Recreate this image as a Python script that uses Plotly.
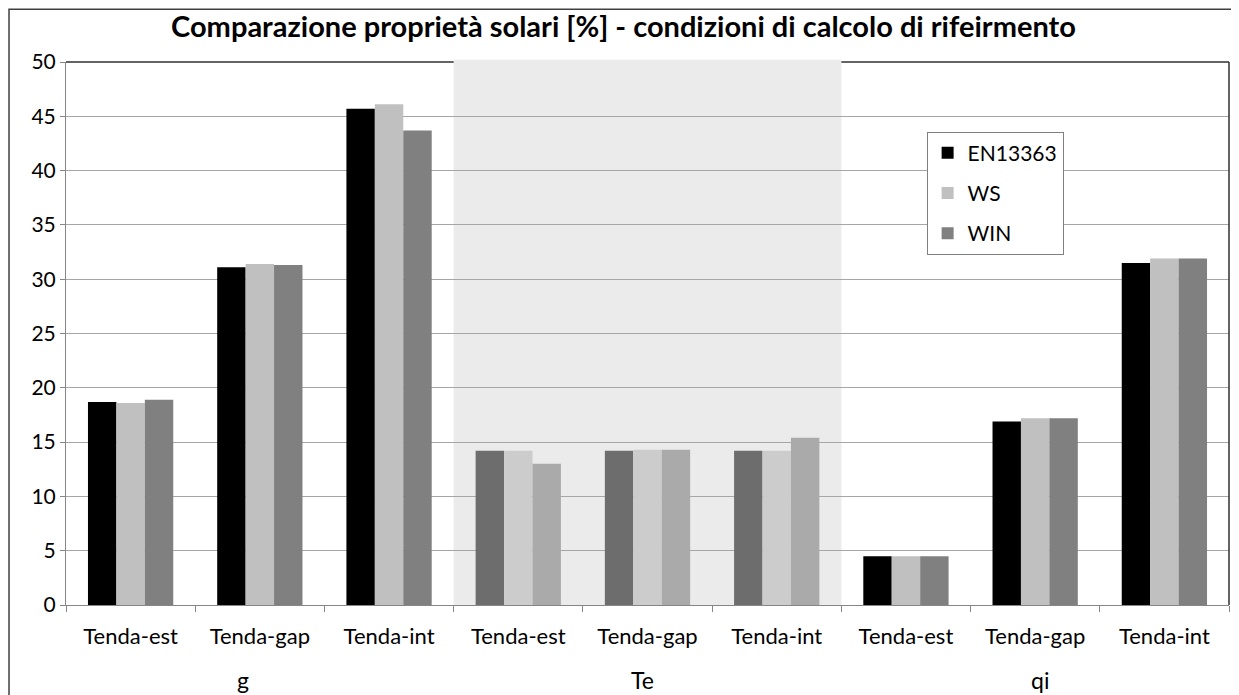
import plotly.graph_objects as go

groups = ["g", "g", "g", "Te", "Te", "Te", "qi", "qi", "qi"]
cases = ["Tenda-est", "Tenda-gap", "Tenda-int"] * 3
group_labels = ["g", "Te", "qi"]

en13363 = [18.7, 31.1, 45.7, 14.2, 14.2, 14.2, 4.5, 16.9, 31.5]
ws = [18.6, 31.4, 46.1, 14.2, 14.3, 14.2, 4.5, 17.2, 31.9]
win = [18.9, 31.3, 43.7, 13.0, 14.3, 15.4, 4.5, 17.2, 31.9]

FONT = "Lato"
GRID = "#a6a6a6"
AXIS = "#868686"

# unique category keys, shown with the repeated case names
keys = [f"{g} {c}" for g, c in zip(groups, cases)]

# Te group is drawn in lighter tones, as in the original sheet
series = [
    ("EN13363", en13363, "#000000", "#6d6d6d"),
    ("WS", ws, "#c0c0c0", "#cccccc"),
    ("WIN", win, "#808080", "#aaaaaa"),
]

fig = go.Figure()
for name, values, base, te in series:
    colors = [te if g == "Te" else base for g in groups]
    fig.add_trace(
        go.Bar(
            x=keys,
            y=values,
            name=name,
            legendgroup=name,
            marker=dict(color=colors, line=dict(width=0)),
        )
    )

# group names under the middle case of each group (Excel nudges them a bit)
label_nudge = {"g": -17, "Te": -5, "qi": 5}
annotations = []
for label in group_labels:
    members = [k for k, g in zip(keys, groups) if g == label]
    annotations.append(
        dict(
            text=label,
            x=members[len(members) // 2],
            xref="x",
            xshift=label_nudge[label],
            y=-0.138,
            yref="paper",
            yanchor="middle",
            showarrow=False,
            font=dict(family=FONT, size=23, color="#000000"),
        )
    )

fig.update_layout(
    width=1231,
    height=687,
    barmode="group",
    bargap=0.34,
    bargroupgap=0,
    plot_bgcolor="white",
    paper_bgcolor="white",
    margin=dict(l=58, r=10, t=54, b=90),
    font=dict(family=FONT, size=22, color="#000000"),
    title=dict(
        text="<b>Comparazione proprietà solari [%] - condizioni di calcolo di rifeirmento</b>",
        x=0.5,
        xanchor="center",
        y=0.973,
        yanchor="middle",
        font=dict(family=FONT, size=29, color="#000000"),
    ),
    legend=dict(
        x=0.74,
        y=0.872,
        xanchor="left",
        yanchor="top",
        bgcolor="white",
        bordercolor="#808080",
        borderwidth=1,
        tracegroupgap=10,
        font=dict(family=FONT, size=21),
    ),
    annotations=annotations,
    shapes=[
        dict(type="rect", xref="x domain", yref="y domain", x0=3 / 9, x1=6 / 9, y0=0, y1=1.004,
             fillcolor="#ebebeb", line=dict(width=0), layer="below"),
        dict(type="line", xref="x domain", yref="y domain", x0=0, x1=3 / 9, y0=1, y1=1,
             line=dict(color="#303030", width=1.5), layer="above"),
        dict(type="line", xref="x domain", yref="y domain", x0=6 / 9, x1=1, y0=1, y1=1,
             line=dict(color="#303030", width=1.5), layer="above"),
        dict(type="line", xref="x domain", yref="y domain", x0=1, x1=1, y0=0, y1=1,
             line=dict(color="#303030", width=1.5), layer="above"),
        dict(type="rect", xref="paper", yref="paper", x0=-0.049, x1=1.006, y0=-0.3, y1=1.097,
             line=dict(color="#404040", width=1.5), layer="above"),
    ],
)
fig.update_yaxes(
    range=[0, 50],
    dtick=5,
    showgrid=True,
    gridcolor=GRID,
    gridwidth=1,
    showline=True,
    linecolor=AXIS,
    ticks="outside",
    ticklen=5,
    tickcolor=AXIS,
    zeroline=False,
    tickfont=dict(family=FONT, size=21),
)
fig.update_xaxes(
    type="category",
    tickvals=keys,
    ticktext=cases,
    showline=True,
    linecolor=AXIS,
    ticks="outside",
    tickson="boundaries",
    ticklen=6,
    tickcolor=AXIS,
    ticklabelstandoff=12,
    tickfont=dict(family=FONT, size=22),
)

fig.write_html("out.html")
